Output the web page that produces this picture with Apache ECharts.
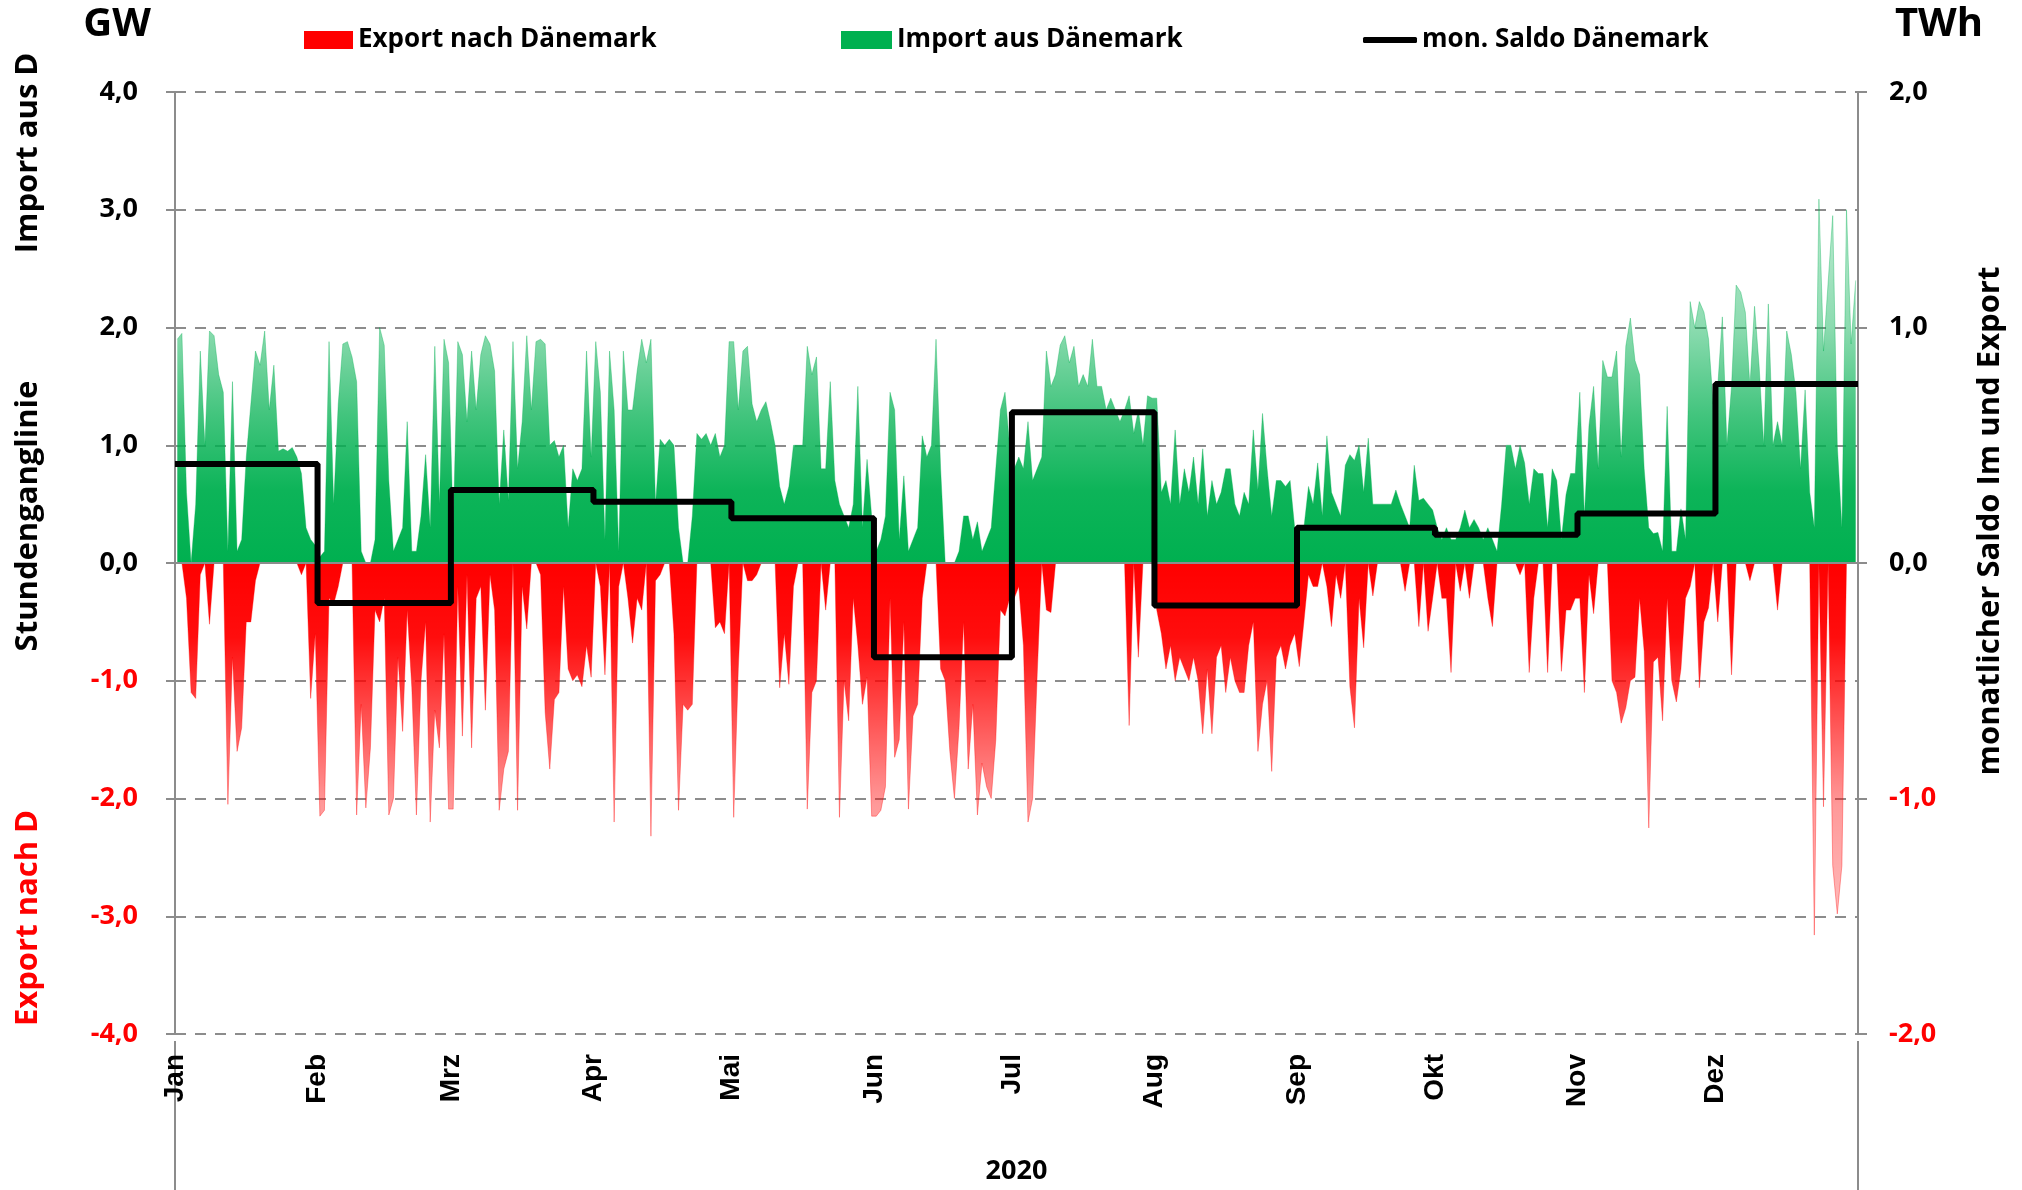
<!DOCTYPE html>
<html>
<head>
<meta charset="utf-8">
<script src="https://cdn.jsdelivr.net/npm/echarts@6/dist/echarts.min.js"></script>
<style>
  html, body { margin: 0; padding: 0; background: #fff; }
  #main { width: 2022px; height: 1190px; }
</style>
</head>
<body>
<div id="main"></div>
<script>
// Monate und Monatsanfang (Tag des Jahres 2020)
const months = ["Jan", "Feb", "Mrz", "Apr", "Mai", "Jun", "Jul", "Aug", "Sep", "Okt", "Nov", "Dez"];
const monthStart = [0, 31, 60, 91, 121, 152, 182, 213, 244, 274, 305, 335, 366];
// monatlicher Saldo (TWh)
const saldoTWh = [0.42, -0.17, 0.31, 0.26, 0.19, -0.40, 0.64, -0.18, 0.15, 0.12, 0.21, 0.76];

// Tagesspitzen Import aus Dänemark (GW)
const impJan = [1.9, 1.95, 0.6, 0, 0.5, 1.8, 1.0, 1.97, 1.93, 1.6, 1.45, 0.1, 1.54, 0.1, 0.2, 0.9, 1.35, 1.8, 1.68, 1.97, 1.3, 1.68, 0.95, 0.97, 0.95, 0.98, 0.9, 0.76, 0.3, 0.2, 0.15];
const impFeb = [0.05, 0.1, 1.88, 0.5, 1.35, 1.86, 1.88, 1.75, 1.54, 0.1, 0, 0, 0.2, 2.0, 1.85, 0.7, 0.1, 0.2, 0.3, 1.2, 0.1, 0.1, 0.4, 0.92, 0.3, 1.84, 0.5, 1.9, 1.7];
const impMar = [0.3, 1.88, 1.77, 1.2, 1.8, 1.3, 1.77, 1.93, 1.86, 1.63, 0.5, 1.13, 0.53, 1.88, 0.8, 1.2, 1.93, 1.3, 1.88, 1.9, 1.86, 1.0, 1.04, 0.9, 1.0, 0.3, 0.8, 0.7, 0.8, 1.8, 0.9];
const impApr = [1.88, 1.45, 0.2, 1.8, 1.3, 0.1, 1.8, 1.3, 1.3, 1.63, 1.9, 1.7, 1.9, 0.5, 1.05, 1.0, 1.05, 1.0, 0.3, 0, 0, 0.4, 1.1, 1.05, 1.1, 1.0, 1.1, 0.9, 1.0, 1.88];
const impMai = [1.88, 1.3, 1.8, 1.84, 1.35, 1.2, 1.3, 1.37, 1.2, 1.0, 0.65, 0.5, 0.65, 1.0, 1.0, 1.0, 1.84, 1.6, 1.75, 0.8, 0.8, 1.54, 0.7, 0.5, 0.4, 0.3, 0.5, 1.5, 0.3, 0.88, 0.4];
const impJun = [0.1, 0.2, 0.4, 1.45, 1.3, 0.2, 0.74, 0.1, 0.2, 0.3, 1.08, 0.9, 1.0, 1.9, 0.8, 0, 0, 0, 0.1, 0.4, 0.4, 0.2, 0.35, 0.1, 0.2, 0.3, 0.8, 1.3, 1.45, 1.0];
const impJul = [0.8, 0.9, 0.8, 1.2, 0.7, 0.8, 0.9, 1.8, 1.5, 1.6, 1.85, 1.93, 1.7, 1.84, 1.5, 1.6, 1.5, 1.9, 1.5, 1.5, 1.3, 1.4, 1.3, 1.2, 1.3, 1.42, 1.1, 1.3, 1.0, 1.42, 1.4];
const impAug = [1.4, 0.6, 0.7, 0.5, 1.13, 0.5, 0.8, 0.6, 0.9, 0.5, 0.97, 0.4, 0.7, 0.5, 0.6, 0.8, 0.8, 0.5, 0.4, 0.6, 0.5, 1.13, 0.62, 1.27, 0.8, 0.4, 0.7, 0.7, 0.65, 0.7, 0.3];
const impSep = [0.3, 0.3, 0.65, 0.5, 0.85, 0.4, 1.08, 0.6, 0.5, 0.4, 0.83, 0.92, 0.87, 1.0, 0.6, 1.06, 0.5, 0.5, 0.5, 0.5, 0.5, 0.62, 0.5, 0.4, 0.3, 0.83, 0.53, 0.55, 0.5, 0.45];
const impOkt = [0.3, 0.2, 0.3, 0.2, 0.2, 0.3, 0.45, 0.3, 0.37, 0.3, 0.2, 0.3, 0.2, 0.1, 0.5, 1.0, 1.0, 0.8, 1.0, 0.85, 0.5, 0.8, 0.76, 0.76, 0.3, 0.8, 0.7, 0.2, 0.58, 0.76, 0.76];
const impNov = [1.45, 0.4, 1.17, 1.5, 0.8, 1.72, 1.58, 1.58, 1.8, 0.9, 1.84, 2.08, 1.72, 1.6, 0.8, 0.3, 0.25, 0.26, 0.1, 1.33, 0.1, 0.1, 0.46, 0.2, 2.22, 2.0, 2.22, 2.13, 1.9, 1.35];
const impDez = [1.5, 2.09, 1.0, 1.5, 2.36, 2.3, 2.13, 1.5, 2.18, 1.67, 1.0, 2.2, 1.0, 1.2, 1.0, 1.97, 1.77, 1.45, 0.8, 1.47, 0.6, 0.3, 3.09, 1.8, 2.38, 2.95, 1.0, 0.3, 3.0, 1.86, 2.4];

// Tagesspitzen Export nach Dänemark (GW, negativ)
const expJan = [0, 0, -0.3, -1.1, -1.15, -0.1, 0, -0.52, 0, 0, 0, -2.05, -0.8, -1.6, -1.4, -0.5, -0.5, -0.15, 0, 0, 0, 0, 0, 0, 0, 0, 0, -0.1, 0, -1.15, -0.6];
const expFeb = [-2.15, -2.1, -0.3, -0.35, -0.2, 0, 0, 0, -2.14, -1.2, -2.08, -1.57, -0.4, -0.5, -0.3, -2.14, -2.0, -0.8, -1.43, -0.4, -1.06, -2.14, -1.0, -0.5, -2.2, -1.25, -1.57, -0.6, -2.09];
const expMar = [-2.09, -0.2, -1.47, -0.1, -1.57, -0.3, -0.2, -1.25, -0.1, -0.4, -2.1, -1.75, -1.6, 0, -2.1, -0.2, -0.56, 0, 0, -0.1, -1.27, -1.75, -1.16, -1.1, -0.2, -0.9, -1.0, -0.95, -1.05, -0.7, -0.97];
const expApr = [0, -0.2, -0.95, 0, -2.2, -0.2, 0, -0.3, -0.68, -0.3, -0.4, 0, -2.32, -0.15, -0.1, 0, 0, -0.6, -2.1, -1.2, -1.25, -1.2, 0, 0, 0, 0, -0.55, -0.5, -0.6, 0];
const expMai = [-2.16, -0.9, 0, -0.15, -0.15, -0.1, 0, 0, 0, 0, -1.06, -0.6, -1.03, -0.2, 0, 0, -2.09, -1.1, -1.0, 0, -0.4, 0, 0, -2.16, -1.0, -1.34, -0.3, -0.7, -1.2, -0.97, -2.15];
const expJun = [-2.15, -2.1, -1.9, -0.3, -1.65, -1.5, -0.5, -2.09, -1.3, -1.2, -0.3, 0, 0, 0, -0.9, -1.0, -1.6, -2.0, -1.4, -0.5, -1.75, -1.2, -2.14, -1.7, -1.9, -2.0, -1.5, -0.4, -0.45, -0.3];
const expJul = [-0.3, -0.2, -0.7, -2.2, -2.0, -0.95, 0, -0.4, -0.42, 0, 0, 0, 0, 0, 0, 0, 0, 0, 0, 0, 0, 0, 0, 0, 0, -1.38, 0, -0.8, 0, 0, 0];
const expAug = [-0.4, -0.6, -0.9, -0.7, -1.0, -0.8, -0.9, -1.0, -0.8, -1.0, -1.45, -0.9, -1.45, -0.8, -0.7, -1.1, -0.8, -1.0, -1.1, -1.1, -0.7, -0.5, -1.6, -1.2, -1.0, -1.77, -0.8, -0.7, -0.9, -0.7, -0.6];
const expSep = [-0.88, -0.5, -0.1, -0.2, -0.2, 0, -0.2, -0.54, -0.1, -0.3, 0, -1.05, -1.4, -0.3, -0.72, 0, -0.28, 0, 0, 0, 0, 0, 0, -0.24, 0, 0, -0.54, 0, -0.58, -0.3];
const expOkt = [0, -0.3, -0.3, -0.93, 0, -0.24, 0, -0.3, 0, 0, 0, -0.3, -0.54, 0, 0, 0, 0, 0, -0.1, 0, -0.93, -0.3, 0, 0, -0.93, 0, 0, -0.92, -0.4, -0.4, -0.3];
const expNov = [-0.3, -1.1, -0.1, -0.43, 0, 0, 0, -1.0, -1.1, -1.36, -1.23, -1.0, -0.97, -0.3, -0.75, -2.25, -0.84, -0.8, -1.34, -0.3, -1.0, -1.18, -0.9, -0.3, -0.2, 0, -1.06, -0.5, -0.38, 0];
const expDez = [-0.5, 0, 0, -0.95, 0, 0, 0, -0.15, 0, 0, 0, 0, 0, -0.4, 0, 0, 0, 0, 0, 0, 0, -3.16, 0, -2.07, 0, -2.57, -2.98, -2.57, 0, 0, 0];

const importDaily = [].concat(impJan, impFeb, impMar, impApr, impMai, impJun, impJul, impAug, impSep, impOkt, impNov, impDez);
const exportDaily = [].concat(expJan, expFeb, expMar, expApr, expMai, expJun, expJul, expAug, expSep, expOkt, expNov, expDez);

const GREEN = "#00b050";
const RED = "#ff0000";
const GRAY = "#8c8c8c";
const FONT = "Open Sans";

const fmt = v => v.toFixed(1).replace(".", ",");

const mychart = echarts.init(document.getElementById("main"));

const option = {
  animation: false,
  backgroundColor: "#fff",
  grid: { left: 175, right: 164, top: 92, bottom: 149 },
  legend: [
    {
      left: 299, top: 22, itemWidth: 49, itemHeight: 18, icon: "rect",
      textStyle: { fontFamily: FONT, fontWeight: "bold", fontSize: 26, color: "#000" },
      data: ["Export nach Dänemark"]
    },
    {
      left: 836, top: 22, itemWidth: 51, itemHeight: 18, icon: "rect",
      textStyle: { fontFamily: FONT, fontWeight: "bold", fontSize: 26, color: "#000" },
      data: ["Import aus Dänemark"]
    },
    {
      left: 1358, top: 22, itemWidth: 54, itemHeight: 6, icon: "roundRect",
      textStyle: { fontFamily: FONT, fontWeight: "bold", fontSize: 26, color: "#000" },
      data: ["mon. Saldo Dänemark"]
    }
  ],
  xAxis: {
    type: "value",
    min: 0,
    max: 366,
    name: "2020",
    nameLocation: "middle",
    nameGap: 124,
    nameTextStyle: { fontFamily: FONT, fontWeight: "bold", fontSize: 27, color: "#000" },
    axisLine: { show: false },
    axisTick: { show: false },
    splitLine: { show: false },
    axisLabel: {
      customValues: monthStart.slice(0, 12),
      rotate: 90,
      margin: 20,
      fontFamily: "Liberation Sans",
      fontWeight: "bold",
      fontSize: 28,
      color: "#000",
      formatter: v => months[monthStart.indexOf(v)]
    }
  },
  yAxis: [
    {
      type: "value",
      min: -4,
      max: 4,
      interval: 1,
      axisLine: { show: true, lineStyle: { color: GRAY, width: 2 } },
      axisTick: { show: true, length: 9, lineStyle: { color: GRAY, width: 2 } },
      splitLine: { show: true, lineStyle: { color: GRAY, width: 2, type: [11, 9] } },
      axisLabel: {
        margin: 37,
        fontFamily: FONT,
        fontWeight: "bold",
        fontSize: 27,
        color: v => (v < 0 ? RED : "#000"),
        formatter: fmt
      }
    },
    {
      type: "value",
      min: -2,
      max: 2,
      interval: 1,
      axisLine: { show: true, lineStyle: { color: GRAY, width: 2 } },
      axisTick: { show: true, length: 9, lineStyle: { color: GRAY, width: 2 } },
      splitLine: { show: false },
      axisLabel: {
        margin: 31,
        fontFamily: FONT,
        fontWeight: "bold",
        fontSize: 27,
        color: v => (v < 0 ? RED : "#000"),
        formatter: fmt
      }
    }
  ],
  graphic: [
    // Achsen reichen bis unten durch
    { type: "line", shape: { x1: 175, y1: 1041, x2: 175, y2: 1190 }, style: { stroke: GRAY, lineWidth: 2 } },
    { type: "line", shape: { x1: 1858, y1: 1041, x2: 1858, y2: 1190 }, style: { stroke: GRAY, lineWidth: 2 } },
    { type: "text", x: 117, y: 25, style: { text: "GW", fontFamily: FONT, fontWeight: "bold", fontSize: 40, fill: "#000", textAlign: "center", textVerticalAlign: "middle" } },
    { type: "text", x: 1939, y: 25, style: { text: "TWh", fontFamily: FONT, fontWeight: "bold", fontSize: 40, fill: "#000", textAlign: "center", textVerticalAlign: "middle" } },
    { type: "text", x: 28, y: 153, rotation: Math.PI / 2, style: { text: "Import aus D", fontFamily: FONT, fontWeight: "bold", fontSize: 31, fill: "#000", textAlign: "center", textVerticalAlign: "middle" } },
    { type: "text", x: 28, y: 516, rotation: Math.PI / 2, style: { text: "Stundenganglinie", fontFamily: FONT, fontWeight: "bold", fontSize: 31, fill: "#000", textAlign: "center", textVerticalAlign: "middle" } },
    { type: "text", x: 28, y: 918, rotation: Math.PI / 2, style: { text: "Export nach D", fontFamily: FONT, fontWeight: "bold", fontSize: 31, fill: RED, textAlign: "center", textVerticalAlign: "middle" } },
    { type: "text", x: 1990, y: 521, rotation: Math.PI / 2, style: { text: "monatlicher Saldo Im und Export", fontFamily: FONT, fontWeight: "bold", fontSize: 31, fill: "#000", textAlign: "center", textVerticalAlign: "middle" } }
  ],
  series: [
    {
      name: "Export nach Dänemark",
      type: "line",
      data: exportDaily.map((v, i) => [i + 0.5, v]),
      symbol: "none",
      itemStyle: { color: RED },
      lineStyle: { color: "rgba(255,0,0,0.35)", width: 1 },
      areaStyle: {
        opacity: 1,
        // dichte Stundenwerte nahe Null, helle Einzelspitzen weiter unten
        color: new echarts.graphic.LinearGradient(0, 0, 0, 1, [
          { offset: 0, color: "rgba(255,0,0,1)" },
          { offset: 0.2, color: "rgba(255,0,0,0.95)" },
          { offset: 0.4, color: "rgba(255,0,0,0.7)" },
          { offset: 0.65, color: "rgba(255,0,0,0.4)" },
          { offset: 1, color: "rgba(255,0,0,0.25)" }
        ])
      },
      z: 2
    },
    {
      name: "Import aus Dänemark",
      type: "line",
      data: importDaily.map((v, i) => [i + 0.5, v]),
      symbol: "none",
      itemStyle: { color: GREEN },
      lineStyle: { color: "rgba(0,176,80,0.35)", width: 1 },
      areaStyle: {
        opacity: 1,
        color: new echarts.graphic.LinearGradient(0, 0, 0, 1, [
          { offset: 0, color: "rgba(0,176,80,0.25)" },
          { offset: 0.35, color: "rgba(0,176,80,0.45)" },
          { offset: 0.6, color: "rgba(0,176,80,0.75)" },
          { offset: 0.8, color: "rgba(0,176,80,0.95)" },
          { offset: 1, color: "rgba(0,176,80,1)" }
        ])
      },
      markLine: {
        silent: true,
        symbol: "none",
        label: { show: false },
        lineStyle: { color: GRAY, width: 2, type: "solid" },
        data: [{ yAxis: 0 }]
      },
      z: 2
    },
    {
      name: "mon. Saldo Dänemark",
      type: "line",
      yAxisIndex: 1,
      step: "end",
      symbol: "none",
      data: monthStart.map((d, i) => [d, saldoTWh[Math.min(i, 11)]]),
      itemStyle: { color: "#000" },
      lineStyle: { color: "#000", width: 6 },
      z: 5
    }
  ]
};

mychart.setOption(option);
</script>
</body>
</html>
